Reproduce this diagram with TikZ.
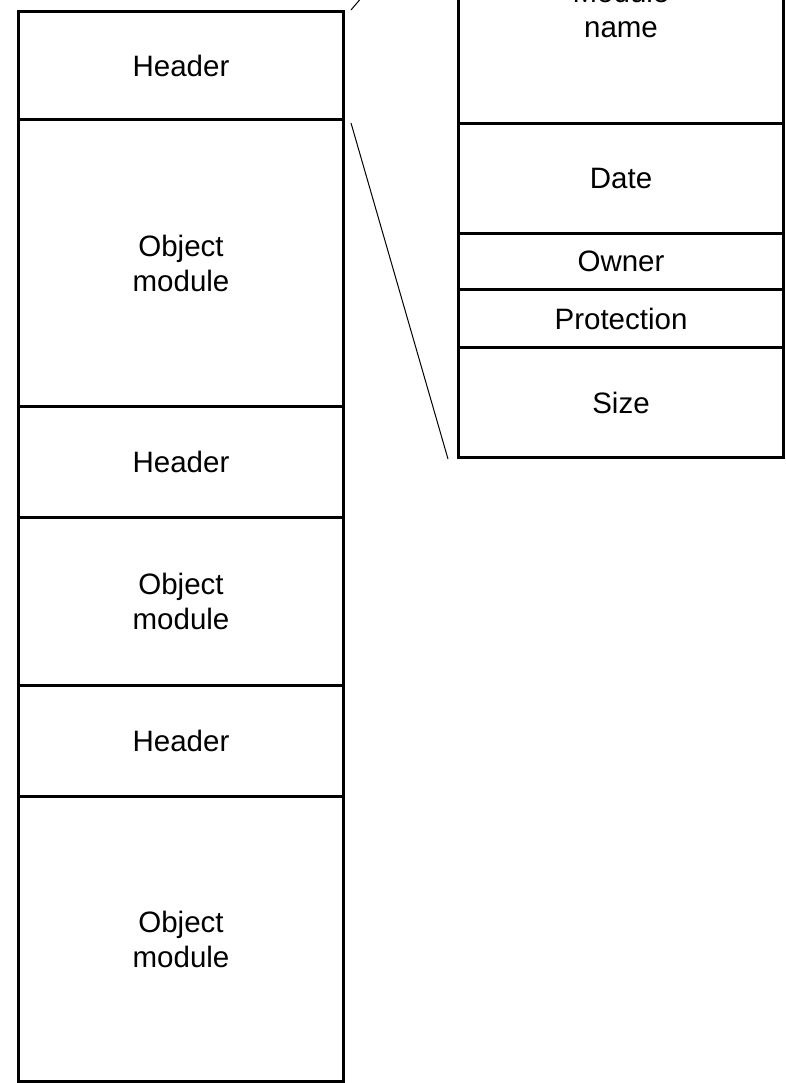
\documentclass[tikz,border=0pt]{standalone}
\usepackage{fontspec}
\setmainfont{Liberation Sans}
\begin{document}
\begin{tikzpicture}[x=1pt,y=-1pt,
  cell/.style={draw=black,line width=3pt,minimum width=325pt,inner sep=0pt,anchor=north west,
     font=\fontsize{29.5}{35}\selectfont,align=center},
  thin/.style={line width=1pt}]
\useasboundingbox (0,0) rectangle (785,1083);
\clip (0,0) rectangle (785,1083);
\fill[white] (0,0) rectangle (785,1083);
% left column
\node[cell,minimum height=108pt] (h1) at (17,10) {Header};
\node[cell,minimum height=287pt] (o1) at (17,118) {Object\\module};
\node[cell,minimum height=111pt] (h2) at (17,405) {Header};
\node[cell,minimum height=168pt] (o2) at (17,516) {Object\\module};
\node[cell,minimum height=111pt] (h3) at (17,684) {Header};
\node[cell,minimum height=285pt] (o3) at (17,795) {Object\\module};
% right column
\node[cell,minimum height=228pt] (mn) at (457,-106) {Module\\name};
\node[cell,minimum height=110pt] (dt) at (457,122) {Date};
\node[cell,minimum height=56pt] (ow) at (457,232) {Owner};
\node[cell,minimum height=58pt] (pr) at (457,288) {Protection};
\node[cell,minimum height=110pt] (sz) at (457,346) {Size};
% connectors
\coordinate (a1) at ([shift={(6,0)}]h1.north east);
\coordinate (b1) at ([shift={(-9,2)}]mn.north west);
\coordinate (a2) at ([shift={(6,2)}]h1.south east);
\coordinate (b2) at ([shift={(-9,0)}]sz.south west);
\draw[thin] (a1) -- (b1);
\draw[thin] (a2) -- (b2);
\end{tikzpicture}
\end{document}
